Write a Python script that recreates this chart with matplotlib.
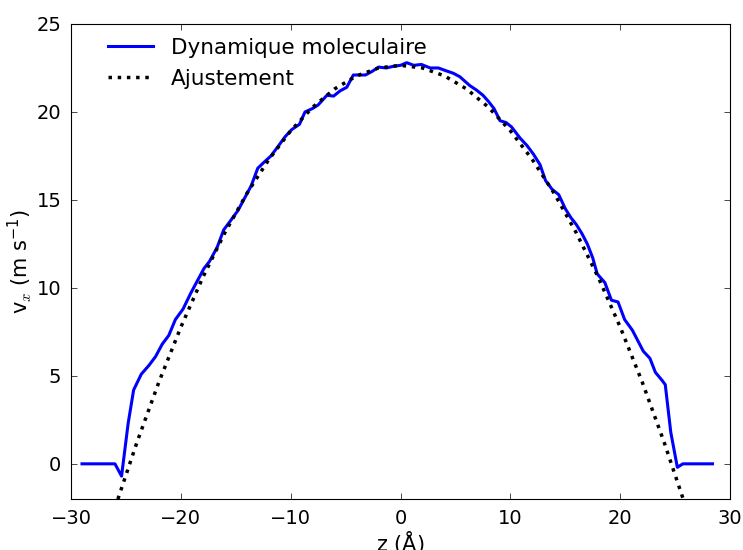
import numpy as np
import matplotlib
matplotlib.use('Agg')
import matplotlib.pyplot as plt

# Molecular dynamics velocity profile
z_md = [-29.0, -28.4, -27.8, -27.2, -26.6, -26.0, -25.4, -24.8, -24.3, -23.6,
        -22.9, -22.3, -21.7, -21.1, -20.5, -19.8, -19.1, -18.5, -17.9, -17.4,
        -16.7, -16.1, -15.5, -14.8, -14.2, -13.6, -13.0, -12.5, -11.8, -11.2,
        -10.5, -9.9, -9.2, -8.7, -8.0, -7.5, -6.7, -6.1, -5.5, -4.9,
        -4.3, -3.7, -3.2, -2.6, -2.0, -1.3, -0.6, 0.0, 0.56, 1.2,
        1.9, 2.7, 3.45, 4.1, 4.8, 5.4, 6.3, 6.9, 7.5, 8.0,
        8.5, 9.06, 9.6, 10.1, 10.9, 11.5, 12.1, 12.7, 13.2, 13.8,
        14.4, 15.0, 15.5, 16.0, 16.5, 17.0, 17.5, 17.9, 18.6, 19.2,
        19.8, 20.4, 21.1, 21.6, 22.1, 22.7, 23.2, 23.8, 24.1, 24.6,
        25.2, 25.7, 26.3, 26.9, 27.5, 28.1, 28.4]
v_md = [0, 0, 0, 0, 0, 0, -0.7, 2.3, 4.2, 5.1,
        5.6, 6.1, 6.8, 7.3, 8.2, 8.8, 9.7, 10.4, 11.1, 11.5,
        12.3, 13.3, 13.8, 14.4, 15.1, 15.8, 16.8, 17.1, 17.5, 18.0,
        18.6, 19.0, 19.3, 20.0, 20.2, 20.4, 20.95, 20.9, 21.2, 21.4,
        22.1, 22.1, 22.1, 22.3, 22.55, 22.5, 22.6, 22.65, 22.8, 22.65,
        22.7, 22.5, 22.5, 22.35, 22.2, 22.0, 21.5, 21.25, 20.95, 20.6,
        20.2, 19.5, 19.4, 19.15, 18.5, 18.1, 17.6, 17.0, 16.1, 15.6,
        15.3, 14.5, 14.0, 13.6, 13.1, 12.5, 11.7, 10.8, 10.3, 9.3,
        9.2, 8.2, 7.6, 7.0, 6.4, 6.0, 5.2, 4.75, 4.5, 1.8,
        -0.2, 0, 0, 0, 0, 0, 0]

# Fitted curve
z_fit = [-26, -24, -22, -20, -18, -16, -14, -12, -10, -8, -6, -4, -2, 0,
         2, 4, 6, 8, 10, 12, 14, 16, 18, 20, 22, 24, 26]
v_fit = [-2.50, 1.22, 4.65, 7.77, 10.60, 13.13, 15.36, 17.29, 18.93, 20.27,
         21.31, 22.05, 22.50, 22.65, 22.50, 22.05, 21.31, 20.27, 18.93, 17.29,
         15.36, 13.13, 10.60, 7.77, 4.65, 1.22, -2.50]

x_ticks = [-30, -20, -10, 0, 10, 20, 30]
y_ticks = [0, 5, 10, 15, 20, 25]

plt.rcParams['font.size'] = 14
plt.rcParams['mathtext.fontset'] = 'cm'
plt.rcParams['mathtext.default'] = 'regular'

fig = plt.figure(figsize=(7.43, 5.5), dpi=100)
ax = fig.add_axes([0.0956, 0.0927, 0.887, 0.8637])

ax.plot(z_md, v_md, color='blue', lw=2.2, label='Dynamique moleculaire')
ax.plot(z_fit, v_fit, color='black', lw=2.5, ls=':', label='Ajustement')

ax.set_xlim(-30, 30)
ax.set_ylim(-2, 25)
ax.set_xticks(x_ticks)
ax.set_yticks(y_ticks)
ax.tick_params(direction='in', top=True, right=True, length=4, width=0.5, pad=7)
ax.set_xlabel(r'z $(\AA)$', fontsize=15, labelpad=1)
ax.set_ylabel(r'v$_{\mathit{x}}$ (m s$^{-1}$)', fontsize=15, labelpad=2)

ax.legend(loc='upper left', frameon=False, handlelength=2.1, borderaxespad=0.25,
          bbox_to_anchor=(0.035, 1.0), labelspacing=0.5, fontsize=15.5)

fig.savefig('out.png', dpi=100)
